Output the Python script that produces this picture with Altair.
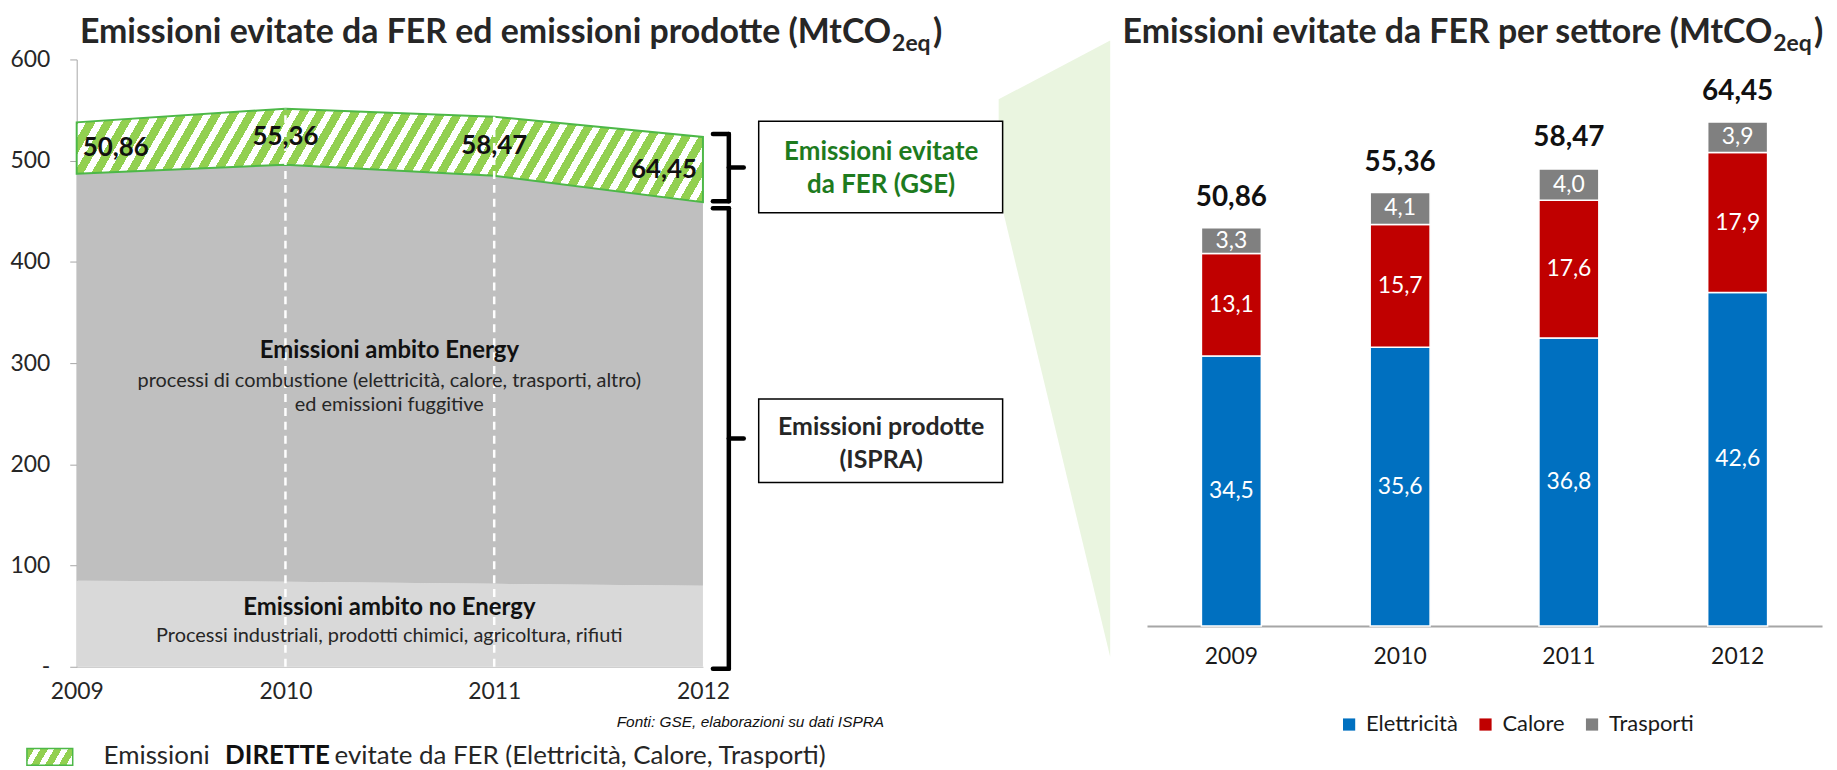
import altair as alt
import pandas as pd
import numpy as np

# ---------------- data ----------------
years = [2009, 2010, 2011, 2012]
no_energy = [85, 84, 82, 80]            # Emissioni ambito no Energy
produced = [487, 496, 485, 459]         # Emissioni prodotte (ISPRA), totale
avoided = [50.86, 55.36, 58.47, 64.45]  # Emissioni evitate da FER (GSE)

bar_years = ["2009", "2010", "2011", "2012"]
sectors = ["Elettricità", "Calore", "Trasporti"]
elettricita = [34.5, 35.6, 36.8, 42.6]
calore = [13.1, 15.7, 17.6, 17.9]
trasporti = [3.3, 4.1, 4.0, 3.9]
sector_colors = ["#0070C0", "#C00000", "#808080"]

y_ticks = [0, 100, 200, 300, 400, 500, 600]

FONT = "Lato"
DARK = "#262626"
HATCH_GREEN = "#92D050"
BORDER_GREEN = "#4DB848"
PALE_GREEN = "#EAF5E0"


def it_num(v, d):
    return f"{v:.{d}f}".replace(".", ",")


# ---------------- layout (page pixels -> view pixels) ----------------
OX, OY = 77, 58
W, H = 1760, 610


def PX(x):
    return x - OX


def PY(y):
    return y - OY


L_RANGE_X = [PX(77), PX(706)]
L_RANGE_Y = [PY(668), PY(58)]
R_RANGE_X = [PX(1152), PX(1830)]
R_BASE = PY(627)
R_MAX = 70
R_RANGE_Y = [R_BASE, R_BASE - 7.86 * R_MAX]


def vy(v):  # left chart value -> page y
    return 668 - v * (668 - 58) / 600.0


def hatch(w, h, period, angle_deg=60, frac=0.55, c1=HATCH_GREEN, c2="#FFFFFF"):
    th = np.radians(angle_deg)
    px, py = np.sin(th), np.cos(th)
    L = px * w + py * h
    a, b = px * w / L, py * h / L
    n2 = a * a + b * b
    x2, y2 = a / n2, b / n2
    nper = L / period
    stops = []
    k = 0
    while k / nper < 1:
        s0 = k / nper
        s1 = min((k + frac) / nper, 1.0)
        s2 = min((k + 1) / nper, 1.0)
        stops += [(s0, c1), (s1, c1), (s1, c2), (s2, c2)]
        k += 1
    return alt.LinearGradient(
        gradient="linear", x1=0, y1=0, x2=float(x2), y2=float(y2),
        stops=[alt.GradientStop(offset=float(o), color=c) for o, c in stops],
    )


# ---------------- left chart ----------------
left = pd.DataFrame({"year": years, "no_energy": no_energy,
                     "produced": produced, "avoided": avoided})
left["top"] = left["produced"] + left["avoided"]
left["mid"] = left["produced"] + left["avoided"] / 2
left["label"] = [it_num(v, 2) for v in avoided]
left["zero"] = 0

lx = alt.Scale(domain=[2009, 2012], range=L_RANGE_X, nice=False, zero=False)
ly = alt.Scale(domain=[0, 600], range=L_RANGE_Y, nice=False)

x_axis_l = alt.Axis(orient="bottom", values=years, format="d", title=None,
                    labelFont=FONT, labelFontSize=23, labelColor=DARK,
                    labelPadding=14, ticks=False, domain=True,
                    domainColor="#BFBFBF", grid=False, labelFlush=False)
y_axis_l = alt.Axis(orient="left", values=y_ticks, title=None,
                    labelExpr="datum.value == 0 ? '-' : datum.label",
                    labelFont=FONT, labelFontSize=23, labelColor=DARK,
                    labelPadding=20, tickSize=7, tickColor="#A6A6A6",
                    domainColor="#A6A6A6", grid=False)

base_l = alt.Chart(left)
X_L = alt.X("year:Q", scale=lx, axis=x_axis_l)

no_en = base_l.mark_area(color="#D9D9D9").encode(
    x=X_L, y=alt.Y("no_energy:Q", scale=ly, axis=y_axis_l))
energy = base_l.mark_area(color="#BFBFBF").encode(
    x=X_L, y=alt.Y("no_energy:Q", scale=ly), y2="produced:Q")

band_w = L_RANGE_X[1] - L_RANGE_X[0]
band_h = (left["top"].max() - left["produced"].min()) * (L_RANGE_Y[0] - L_RANGE_Y[1]) / 600.0
band = base_l.mark_area(fill=hatch(band_w, band_h, 15), stroke=BORDER_GREEN,
                        strokeWidth=2).encode(
    x=X_L, y=alt.Y("produced:Q", scale=ly), y2="top:Q")

dashes = base_l.mark_rule(color="white", strokeDash=[8, 6], strokeWidth=2.5).encode(
    x=X_L, y=alt.Y("zero:Q", scale=ly), y2="top:Q"
).transform_filter("datum.year == 2010 || datum.year == 2011")

txt_kw = dict(font=FONT, fontSize=26, fontWeight="bold", color="#111111", baseline="middle")
lab_first = base_l.mark_text(align="left", dx=6, **txt_kw).encode(
    x=X_L, y=alt.Y("mid:Q", scale=ly), text="label:N").transform_filter("datum.year == 2009")
lab_mid = base_l.mark_text(align="center", **txt_kw).encode(
    x=X_L, y=alt.Y("mid:Q", scale=ly), text="label:N").transform_filter(
    "datum.year == 2010 || datum.year == 2011")
lab_last = base_l.mark_text(align="right", dx=-6, **txt_kw).encode(
    x=X_L, y=alt.Y("mid:Q", scale=ly), text="label:N").transform_filter("datum.year == 2012")

left_chart = alt.layer(no_en, energy, band, dashes, lab_first, lab_mid, lab_last)

# ---------------- right chart ----------------
rows = []
for i, yr in enumerate(bar_years):
    base = 0.0
    for k, (s, vals) in enumerate(zip(sectors, [elettricita, calore, trasporti])):
        v = vals[i]
        rows.append({"year": yr, "sector": s, "order": k, "y0": base, "y1": base + v,
                     "mid": base + v / 2, "label": it_num(v, 1)})
        base += v
right = pd.DataFrame(rows)
totals = pd.DataFrame({"year": bar_years, "total": avoided,
                       "label": [it_num(v, 2) for v in avoided]})

rx = alt.Scale(domain=bar_years, range=R_RANGE_X, paddingInner=0.645, paddingOuter=0.3225)
ry = alt.Scale(domain=[0, R_MAX], range=R_RANGE_Y, nice=False)

x_axis_r = alt.Axis(orient="bottom", offset=-(H - R_BASE), title=None, labelAngle=0,
                    ticks=False, domainColor="#A6A6A6", domainWidth=2,
                    labelFont=FONT, labelFontSize=23, labelColor="#1A1A1A",
                    labelPadding=20)
X_R = alt.X("year:N", scale=rx, axis=x_axis_r)

bars = alt.Chart(right).mark_bar(stroke="white", strokeWidth=1.5).encode(
    x=X_R,
    y=alt.Y("y1:Q", scale=ry, axis=None),
    y2="y0:Q",
    color=alt.Color("sector:N", scale=alt.Scale(domain=sectors, range=sector_colors),
                    legend=alt.Legend(orient="none", legendX=PX(1344), legendY=PY(715),
                                      direction="horizontal", title=None,
                                      symbolType="square", symbolSize=150,
                                      symbolStrokeWidth=0, labelFont=FONT,
                                      labelFontSize=22, labelColor="#1A1A1A",
                                      columnPadding=16, labelOffset=6)),
    order="order:Q",
)
seg_labels = alt.Chart(right).mark_text(font=FONT, fontSize=23, color="white",
                                        baseline="middle").encode(
    x=X_R, y=alt.Y("mid:Q", scale=ry), text="label:N")
tot_labels = alt.Chart(totals).mark_text(font=FONT, fontSize=28, fontWeight="bold",
                                         color="#111111", baseline="middle", dy=-30).encode(
    x=X_R, y=alt.Y("total:Q", scale=ry), text="label:N")

right_chart = alt.layer(bars, seg_labels, tot_labels)

# ---------------- decoration: pale green link between the two panels ----------------
link = pd.DataFrame({"x": [PX(1003), PX(1115)], "top": [PY(98), PY(39)],
                     "bottom": [PY(192), PY(658)]})
pix_x = alt.Scale(domain=[0, W], range=[0, W], nice=False, zero=False)
pix_y = alt.Scale(domain=[0, H], range=[0, H], nice=False, zero=False)
link_chart = alt.Chart(link).mark_area(color=PALE_GREEN).encode(
    x=alt.X("x:Q", scale=pix_x, axis=None),
    y=alt.Y("top:Q", scale=pix_y, axis=None),
    y2="bottom:Q",
)

# ---------------- annotations ----------------
one = pd.DataFrame({"k": [0]})


def label(text, x, y, size, weight="normal", color=DARK, align="center",
          baseline="middle", font=FONT, style="normal"):
    return alt.Chart(one).mark_text(
        text=text, fontSize=size, fontWeight=weight, color=color, align=align,
        baseline=baseline, font=font, fontStyle=style
    ).encode(x=alt.value(PX(x)), y=alt.value(PY(y)))


def rule(x, x2, y, y2, w=4.5, color="black"):
    return alt.Chart(one).mark_rule(color=color, strokeWidth=w, strokeCap="round").encode(
        x=alt.value(PX(x)), x2=alt.value(PX(x2)), y=alt.value(PY(y)), y2=alt.value(PY(y2)))


def box(x, x2, y, y2):
    return alt.Chart(one).mark_rect(fill="white", stroke="black", strokeWidth=1.5).encode(
        x=alt.value(PX(x)), x2=alt.value(PX(x2)), y=alt.value(PY(y)), y2=alt.value(PY(y2)))


def brace(top, bottom):
    xh, xv, xt = 716, 732, 747
    mid = (top + bottom) / 2
    return [rule(xh, xv, top, top), rule(xv, xv, top, bottom),
            rule(xh, xv, bottom, bottom), rule(xv, xt, mid, mid)]


top12 = vy(left["top"].iloc[-1])
prod12 = vy(left["produced"].iloc[-1])
annots = []
annots += brace(top12 - 3, prod12 - 1)
annots += brace(prod12 + 6, vy(0) + 2)
annots += [box(762, 1007, 120, 212), box(762, 1007, 399, 483)]
annots += [
    label("Emissioni evitate", 885, 151, 26, "bold", "#1E7B1E"),
    label("da FER (GSE)", 885, 184, 26, "bold", "#1E7B1E"),
    label("Emissioni prodotte", 885, 427, 25, "bold", DARK),
    label("(ISPRA)", 885, 460, 25, "bold", DARK),
    # titles
    label("Emissioni evitate da FER ed emissioni prodotte (MtCO", 895, 41, 34, "bold", DARK,
          align="right", baseline="alphabetic"),
    label("2eq", 896, 50, 23, "bold", DARK, align="left", baseline="alphabetic"),
    label(")", 937, 41, 34, "bold", DARK, align="left", baseline="alphabetic"),
    label("Emissioni evitate da FER per settore (MtCO", 1780, 41, 34, "bold", DARK,
          align="right", baseline="alphabetic"),
    label("2eq", 1781, 50, 23, "bold", DARK, align="left", baseline="alphabetic"),
    label(")", 1822, 41, 34, "bold", DARK, align="left", baseline="alphabetic"),
    # texts inside the areas
    label("Emissioni ambito Energy", 391, 351, 24, "bold", "#111111"),
    label("processi di combustione (elettricità, calore, trasporti, altro)", 391, 381, 20),
    label("ed emissioni fuggitive", 391, 405, 20),
    label("Emissioni ambito no Energy", 391, 609, 24, "bold", "#111111"),
    label("Processi industriali, prodotti chimici, agricoltura, rifiuti", 391, 637, 20),
    # source
    label("Fonti: GSE, elaborazioni su dati ISPRA", 888, 723, 15.5, color="#111111",
          align="right", font="Liberation Sans", style="italic"),
    # bottom legend
    label("Emissioni", 104, 758, 26, align="left"),
    label("DIRETTE", 226, 758, 26, "bold", "#111111", align="left"),
    label("evitate da FER (Elettricità, Calore, Trasporti)", 336, 758, 26, align="left"),
]
swatch = alt.Chart(one).mark_rect(fill=hatch(46, 17, 12), stroke=BORDER_GREEN,
                                  strokeWidth=1.5).encode(
    x=alt.value(PX(27)), x2=alt.value(PX(73)), y=alt.value(PY(750)), y2=alt.value(PY(767)))
annots.append(swatch)

chart = alt.layer(link_chart, left_chart, right_chart, *annots).resolve_scale(
    x="independent", y="independent", color="independent"
).properties(
    width=W, height=H,
    padding={"left": OX - 8, "top": OY - 8, "right": 0, "bottom": 762 - (OY - 8) - H},
    autosize=alt.AutoSizeParams(type="none"),
).configure_view(stroke=None)

chart.save("out.html", embed_options={"renderer": "svg", "actions": False})
